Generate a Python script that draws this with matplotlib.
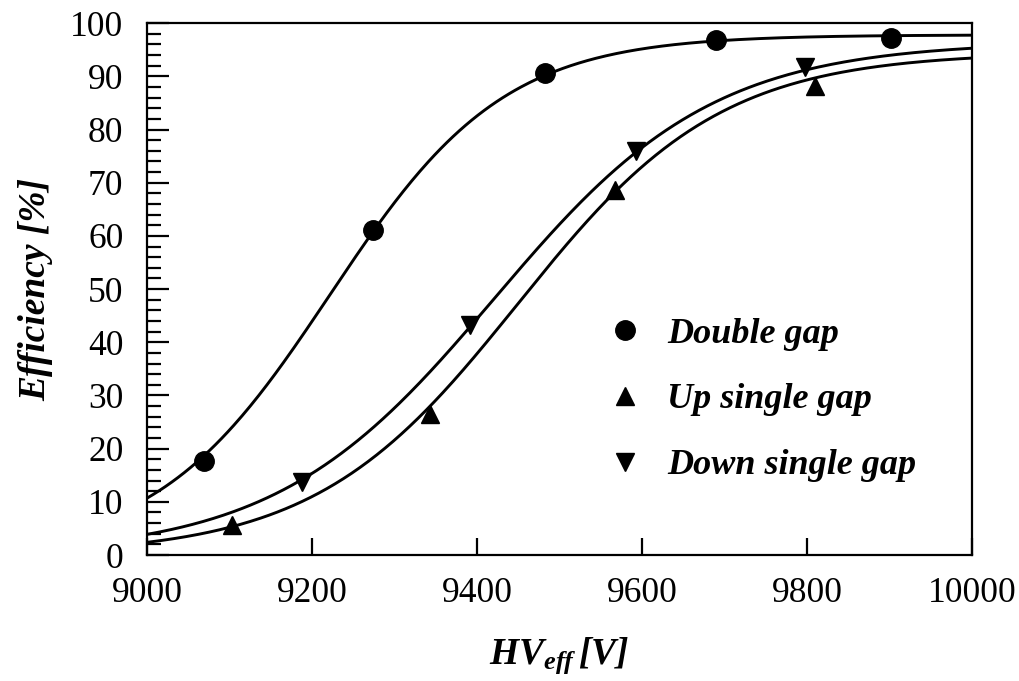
import numpy as np
import matplotlib
matplotlib.use("Agg")
import matplotlib.pyplot as plt
from matplotlib.ticker import MultipleLocator

plt.rcParams['font.family'] = 'Liberation Serif'
plt.rcParams['mathtext.fontset'] = 'custom'
plt.rcParams['mathtext.it'] = 'Liberation Serif:italic:bold'
plt.rcParams['mathtext.rm'] = 'Liberation Serif:italic:bold'

# measured points (HV_eff [V], efficiency [%])
hv_double = [9069, 9274, 9482, 9690, 9902]
eff_double = [17.7, 61.1, 90.7, 96.9, 97.3]

hv_up = [9103, 9343, 9567, 9810]
eff_up = [5.6, 26.6, 68.6, 88.2]

hv_down = [9188, 9392, 9593, 9798]
eff_down = [13.8, 43.2, 76.0, 91.8]

# sigmoid fit parameters: plateau, HV at 50% of plateau, width
fit_double = (97.8, 9221.5, 105.6)
fit_up = (94.5, 9449.5, 123.0)
fit_down = (96.5, 9421.0, 132.7)


def sigmoid(x, plateau, x50, width):
  return plateau / (1.0 + np.exp(-(x - x50) / width))


hv = np.linspace(9000, 10000, 400)

fig = plt.figure(figsize=(10.19, 6.81), dpi=100)
ax = fig.add_axes([0.1443, 0.185, 0.8097, 0.781])

lw = 2.1
ax.plot(hv, sigmoid(hv, *fit_double), color='black', lw=lw)
ax.plot(hv, sigmoid(hv, *fit_up), color='black', lw=lw)
ax.plot(hv, sigmoid(hv, *fit_down), color='black', lw=lw)

ax.plot(hv_double, eff_double, 'o', color='black', ms=14, label='Double gap')
ax.plot(hv_up, eff_up, '^', color='black', ms=13, label='Up single gap')
ax.plot(hv_down, eff_down, 'v', color='black', ms=13, label='Down single gap')

ax.set_xlim(9000, 10000)
ax.set_ylim(0, 100)
ax.xaxis.set_major_locator(MultipleLocator(200))
ax.yaxis.set_major_locator(MultipleLocator(10))
ax.yaxis.set_minor_locator(MultipleLocator(2))

ax.tick_params(axis='both', which='both', direction='in', labelsize=25.5,
               width=1.6, top=False, right=False)
ax.tick_params(axis='y', which='major', length=16, pad=17)
ax.tick_params(axis='y', which='minor', length=10)
ax.tick_params(axis='x', which='major', length=12, pad=16)
for s in ax.spines.values():
  s.set_linewidth(1.6)

ax.set_ylabel('Efficiency [%]', fontsize=27, fontweight='bold',
              fontstyle='italic', labelpad=12)
ax.set_xlabel(r'$HV_{eff}\,[V]$', fontsize=27, labelpad=18)

ax.legend(loc='upper left', bbox_to_anchor=(0.518, 0.508), frameon=False,
          handlelength=1.0, handletextpad=0.67, labelspacing=0.9,
          prop={'weight': 'bold', 'style': 'italic', 'size': 26})

fig.savefig('out.png', dpi=100)
